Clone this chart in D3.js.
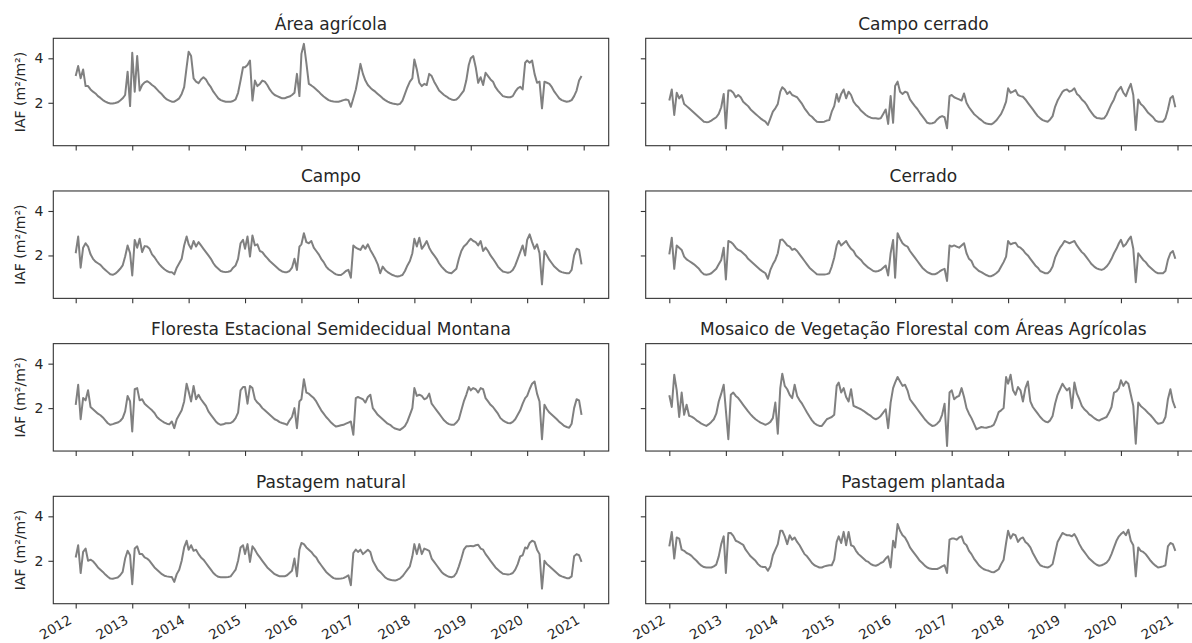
<!DOCTYPE html>
<html>
<head>
<meta charset="utf-8">
<script src="https://cdn.jsdelivr.net/npm/d3@7"></script>
<style>
  body { margin: 0; background: #fff; }
  svg { display: block; }
  text { font-family: "DejaVu Sans", sans-serif; fill: #262626; }
</style>
</head>
<body>
<svg id="chart" width="1192" height="643"></svg>
<script>
// Leaf area index (IAF) series, 16-day composites, 23 samples per year (2012-2020)
const years = [2012, 2013, 2014, 2015, 2016, 2017, 2018, 2019, 2020];
const samplesPerYear = 23;
const stepDays = 16;
const xTickYears = [2012, 2013, 2014, 2015, 2016, 2017, 2018, 2019, 2020, 2021];
const yTickValues = [2, 4];
const yLabel = "IAF (m²/m²)";

const panelTitles = [
  "Área agrícola",
  "Campo cerrado",
  "Campo",
  "Cerrado",
  "Floresta Estacional Semidecidual Montana",
  "Mosaico de Vegetação Florestal com Áreas Agrícolas",
  "Pastagem natural",
  "Pastagem plantada"
];

const areaAgricola = [
  3.2, 3.65, 3.1, 3.5, 2.75, 2.75, 2.6, 2.5, 2.42, 2.3, 2.22, 2.12, 2.05, 2.0, 1.97, 1.97, 1.99, 2.02, 2.1, 2.2, 2.35, 3.4, 1.85,
  4.25, 2.5, 4.1, 2.55, 2.8, 2.92, 2.97, 2.9, 2.8, 2.72, 2.6, 2.48, 2.38, 2.25, 2.15, 2.1, 2.05, 2.05, 2.12, 2.2, 2.4, 2.7, 3.6,
  4.3, 4.1, 3.1, 2.95, 2.88, 3.05, 3.15, 3.05, 2.85, 2.7, 2.5, 2.35, 2.2, 2.12, 2.08, 2.05, 2.05, 2.05, 2.08, 2.15, 2.45, 3.0, 3.6,
  3.6, 3.7, 3.9, 2.1, 3.0, 2.75, 2.85, 3.0, 2.95, 2.8, 2.6, 2.45, 2.35, 2.3, 2.25, 2.2, 2.2, 2.25, 2.28, 2.35, 2.45, 3.3, 2.3,
  4.2, 4.65, 3.8, 2.85, 2.78, 2.7, 2.6, 2.5, 2.38, 2.28, 2.2, 2.12, 2.08, 2.06, 2.05, 2.05, 2.08, 2.12, 2.15, 2.12, 1.82, 2.2, 2.6,
  3.1, 3.75, 3.3, 3.0, 2.8, 2.68, 2.58, 2.5, 2.4, 2.3, 2.2, 2.12, 2.05, 2.0, 1.97, 1.95, 1.92, 1.95, 2.1, 2.4, 2.7, 2.95, 3.1,
  3.95, 3.5, 2.9, 2.75, 2.85, 2.8, 3.3, 3.2, 2.95, 2.75, 2.55, 2.45, 2.35, 2.28, 2.2, 2.15, 2.12, 2.15, 2.25, 2.4, 2.55, 3.0, 3.7,
  4.0, 4.1, 3.6, 2.9, 3.15, 2.8, 3.35, 3.2, 3.05, 2.95, 2.7, 2.55, 2.42, 2.3, 2.27, 2.25, 2.25, 2.3, 2.5, 2.65, 2.72, 2.6, 3.8,
  3.9, 3.8, 3.9, 3.3, 2.9, 2.95, 1.75, 2.95, 2.9, 2.85, 2.7, 2.5, 2.35, 2.2, 2.12, 2.08, 2.05, 2.07, 2.12, 2.3, 2.55, 3.0, 3.2
];

const campoCerrado = [
  2.1, 2.6, 1.45, 2.45, 2.2, 2.35, 1.95, 1.85, 1.75, 1.65, 1.55, 1.45, 1.35, 1.25, 1.15, 1.13, 1.14, 1.2, 1.28, 1.35, 1.5, 1.8, 2.4,
  0.85, 2.55, 2.55, 2.45, 2.25, 2.35, 2.25, 2.05, 1.95, 1.85, 1.7, 1.6, 1.5, 1.4, 1.3, 1.22, 1.15, 1.0, 1.3, 1.6, 1.75, 1.95, 2.5,
  2.7, 2.6, 2.4, 2.5, 2.35, 2.3, 2.25, 2.1, 1.95, 1.75, 1.6, 1.45, 1.37, 1.25, 1.15, 1.14, 1.14, 1.15, 1.2, 1.22, 1.6, 1.85, 2.4,
  2.05, 2.4, 2.6, 2.2, 2.5, 2.35, 2.05, 1.9, 1.8, 1.65, 1.55, 1.45, 1.38, 1.33, 1.3, 1.3, 1.28, 1.3, 1.5, 1.7, 1.05, 2.3, 1.1,
  2.75, 2.95, 2.5, 2.4, 2.5, 2.45, 2.15, 2.0, 1.85, 1.72, 1.55, 1.4, 1.25, 1.1, 1.07, 1.08, 1.12, 1.25, 1.35, 1.4, 1.35, 0.85, 2.3,
  2.35, 2.25, 2.2, 2.15, 2.1, 2.42, 2.0, 1.8, 1.65, 1.5, 1.4, 1.3, 1.22, 1.12, 1.07, 1.05, 1.03, 1.1, 1.2, 1.35, 1.5, 1.75, 2.05,
  2.65, 2.45, 2.5, 2.57, 2.35, 2.3, 2.27, 2.15, 2.0, 1.85, 1.7, 1.55, 1.4, 1.3, 1.22, 1.18, 1.15, 1.25, 1.4, 1.82, 2.1, 2.3, 2.5,
  2.57, 2.6, 2.5, 2.55, 2.65, 2.4, 2.3, 2.15, 2.05, 1.9, 1.7, 1.55, 1.4, 1.32, 1.3, 1.28, 1.3, 1.45, 1.7, 1.95, 2.15, 2.45, 2.6,
  2.72, 2.45, 2.3, 2.6, 2.85, 2.35, 0.78, 2.15, 1.95, 1.85, 1.7, 1.55, 1.45, 1.35, 1.2, 1.15, 1.15, 1.15, 1.3, 1.7, 2.2, 2.3, 1.8
];

const campo = [
  2.1, 2.85, 1.45, 2.35, 2.55, 2.4, 2.05, 1.85, 1.72, 1.65, 1.58, 1.45, 1.35, 1.25, 1.15, 1.13, 1.18, 1.28, 1.4, 1.55, 1.95, 2.45, 2.1,
  1.1, 2.7, 2.35, 2.75, 2.15, 2.42, 2.4, 2.3, 2.05, 1.92, 1.75, 1.6, 1.48, 1.38, 1.3, 1.25, 1.25, 1.15, 1.45, 1.65, 1.85, 2.45, 2.85,
  2.5, 2.3, 2.65, 2.4, 2.6, 2.45, 2.3, 2.15, 2.0, 1.85, 1.65, 1.5, 1.4, 1.3, 1.27, 1.25, 1.27, 1.3, 1.45, 1.55, 1.85, 2.55, 2.7,
  2.3, 2.85, 1.95, 2.9, 2.45, 2.5, 2.2, 2.15, 2.0, 1.88, 1.75, 1.65, 1.55, 1.45, 1.35, 1.28, 1.25, 1.25, 1.3, 1.45, 1.85, 1.35, 2.4,
  2.5, 3.0, 2.6, 2.55, 2.65, 2.35, 2.2, 2.05, 1.85, 1.7, 1.5, 1.38, 1.3, 1.22, 1.15, 1.12, 1.12, 1.2, 1.3, 1.35, 1.0, 2.45, 2.35,
  2.3, 2.25, 2.45, 2.3, 2.5, 2.25, 2.05, 1.85, 1.6, 1.2, 1.5, 1.35, 1.25, 1.18, 1.12, 1.08, 1.05, 1.08, 1.12, 1.3, 1.55, 1.75, 2.1,
  2.75, 2.4, 2.8, 2.3, 2.45, 2.65, 2.35, 2.15, 2.0, 1.85, 1.65, 1.5, 1.38, 1.27, 1.22, 1.2, 1.3, 1.4, 1.85, 2.2, 2.4, 2.5, 2.65,
  2.75, 2.65, 2.6, 2.45, 2.65, 2.2, 2.35, 2.2, 2.0, 1.85, 1.68, 1.5, 1.38, 1.28, 1.25, 1.22, 1.25, 1.35, 1.55, 1.85, 2.15, 2.45, 2.0,
  2.7, 2.95, 2.6, 2.3, 2.5, 2.1, 0.7, 2.2, 2.0, 1.8, 1.65, 1.5, 1.4, 1.3, 1.25, 1.22, 1.2, 1.2, 1.35, 2.0, 2.3, 2.25, 1.6
];

const cerrado = [
  2.05, 2.8, 1.4, 2.45, 2.35, 2.25, 1.95, 1.82, 1.75, 1.68, 1.6, 1.5, 1.4, 1.25, 1.15, 1.13, 1.15, 1.2, 1.3, 1.4, 1.6, 1.8, 2.35,
  0.92, 2.65, 2.6, 2.5, 2.35, 2.25, 2.2, 2.1, 2.0, 1.85, 1.75, 1.65, 1.55, 1.45, 1.35, 1.27, 1.2, 0.95, 1.35, 1.6, 1.8, 2.1, 2.7,
  2.72, 2.6, 2.45, 2.4, 2.25, 2.3, 2.2, 2.05, 1.9, 1.75, 1.6, 1.45, 1.35, 1.25, 1.15, 1.14, 1.14, 1.14, 1.16, 1.2, 1.5, 1.9, 2.45,
  2.65, 2.45, 2.55, 2.65, 2.45, 2.3, 2.2, 2.0, 1.9, 1.8, 1.65, 1.55, 1.45, 1.38, 1.3, 1.28, 1.3, 1.35, 1.45, 1.55, 1.1, 2.1, 2.7,
  1.0, 3.0, 2.75, 2.55, 2.45, 2.4, 2.2, 2.05, 1.9, 1.75, 1.6, 1.45, 1.35, 1.25, 1.2, 1.15, 1.15, 1.2, 1.28, 1.35, 1.4, 0.85, 2.45,
  2.4, 2.45, 2.4, 2.35, 2.45, 2.55, 2.1, 1.85, 1.75, 1.5, 1.4, 1.3, 1.25, 1.18, 1.12, 1.07, 1.07, 1.12, 1.2, 1.3, 1.5, 1.7, 1.95,
  2.65, 2.5, 2.55, 2.57, 2.4, 2.35, 2.25, 2.1, 2.0, 1.85, 1.7, 1.55, 1.45, 1.3, 1.25, 1.2, 1.2, 1.3, 1.5, 1.9, 2.15, 2.35, 2.5,
  2.65, 2.6, 2.55, 2.6, 2.65, 2.45, 2.3, 2.15, 2.05, 1.9, 1.75, 1.6, 1.5, 1.42, 1.38, 1.35, 1.4, 1.5, 1.65, 1.85, 2.1, 2.3, 2.55,
  2.7, 2.4, 2.5, 2.7, 2.85, 2.3, 0.8, 2.1, 1.95, 1.8, 1.7, 1.55, 1.45, 1.35, 1.25, 1.2, 1.2, 1.2, 1.3, 1.8, 2.1, 2.2, 1.85
];

const floresta = [
  2.15, 3.05, 1.5, 2.45, 2.35, 2.8, 2.05, 1.95, 1.85, 1.75, 1.68, 1.58, 1.45, 1.32, 1.25, 1.28, 1.32, 1.35, 1.42, 1.55, 1.85, 2.55, 2.3,
  0.95, 2.85, 2.9, 2.35, 2.4, 2.2, 2.1, 2.0, 1.9, 1.78, 1.6, 1.5, 1.42, 1.35, 1.3, 1.27, 1.4, 1.1, 1.5, 1.7, 1.9, 2.3, 3.1,
  2.75, 2.3, 3.0, 2.4, 2.6, 2.4, 2.25, 2.1, 1.85, 1.7, 1.55, 1.4, 1.3, 1.25, 1.27, 1.32, 1.32, 1.33, 1.4, 1.55, 1.8, 2.8, 2.95,
  2.95, 2.2, 3.0, 2.9, 2.4, 2.25, 2.15, 2.0, 1.9, 1.8, 1.7, 1.6, 1.5, 1.45, 1.37, 1.33, 1.3, 1.25, 1.45, 1.6, 2.0, 1.1, 2.3,
  2.4, 3.3, 2.7, 2.65, 2.55, 2.45, 2.3, 2.1, 1.9, 1.75, 1.6, 1.48, 1.35, 1.25, 1.17, 1.2, 1.23, 1.25, 1.3, 1.35, 1.4, 0.8, 2.45,
  2.5, 2.45, 2.4, 2.25, 2.5, 2.6, 2.0, 1.85, 1.7, 1.6, 1.5, 1.4, 1.3, 1.25, 1.15, 1.08, 1.05, 1.02, 1.1, 1.2, 1.4, 1.7, 2.0,
  2.9, 2.55, 2.6, 2.55, 2.4, 2.45, 2.65, 2.2, 2.05, 1.9, 1.75, 1.6, 1.45, 1.35, 1.28, 1.25, 1.25, 1.35, 1.5, 1.9, 2.3, 2.6, 2.95,
  2.8, 2.9, 2.85, 2.7, 2.9, 2.85, 2.45, 2.3, 2.15, 2.05, 1.9, 1.75, 1.55, 1.45, 1.38, 1.33, 1.32, 1.38, 1.5, 1.7, 1.9, 2.2, 2.45,
  2.55, 2.85, 3.1, 3.2, 2.65, 2.3, 0.6, 2.15, 1.95, 1.8, 1.7, 1.6, 1.5, 1.38, 1.3, 1.2, 1.15, 1.12, 1.3, 2.0, 2.4, 2.35, 1.7
];

const mosaico = [
  2.58, 2.05, 3.5, 2.8, 1.6, 2.7, 1.7, 2.15, 1.66, 1.62, 1.55, 1.45, 1.38, 1.3, 1.25, 1.2, 1.28, 1.38, 1.5, 1.75, 2.3, 2.65, 3.05,
  1.9, 0.6, 2.6, 2.7, 2.55, 2.45, 2.3, 2.15, 2.0, 1.85, 1.72, 1.6, 1.5, 1.42, 1.35, 1.3, 1.25, 1.3, 1.38, 1.55, 2.25, 0.85, 2.9,
  3.55, 3.0, 2.85, 2.6, 2.45, 3.05, 2.55, 2.35, 2.2, 2.0, 1.8, 1.62, 1.45, 1.32, 1.25, 1.2, 1.2, 1.35, 1.5, 1.55, 1.6, 1.7, 3.0,
  3.15, 2.7, 2.9, 2.5, 2.3, 2.85, 2.1, 2.05, 2.0, 1.95, 1.88, 1.8, 1.72, 1.65, 1.55, 1.5, 1.55, 1.65, 1.8, 1.95, 1.1, 2.25, 2.9,
  3.15, 3.4, 3.2, 3.0, 3.05, 2.8, 2.4, 2.25, 2.1, 1.95, 1.8, 1.65, 1.5, 1.38, 1.28, 1.2, 1.22, 1.3, 1.42, 1.7, 2.2, 0.3, 2.7,
  2.8, 2.4, 2.5, 2.55, 2.9, 2.5, 2.0, 1.75, 1.55, 1.3, 1.05, 1.1, 1.15, 1.13, 1.12, 1.15, 1.18, 1.25, 1.5, 1.82, 1.9, 2.0, 3.4,
  3.1, 3.5, 2.8, 2.6, 2.95, 2.8, 2.3, 2.9, 3.2, 2.3, 2.05, 1.9, 1.75, 1.6, 1.48, 1.4, 1.36, 1.45, 1.65, 2.2, 2.6, 2.85, 3.1,
  2.95, 2.8, 2.9, 2.0, 3.15, 2.65, 2.4, 2.1, 1.95, 1.85, 1.72, 1.65, 1.55, 1.48, 1.44, 1.5, 1.55, 1.6, 1.8, 2.05, 2.7, 2.75, 2.9,
  3.25, 3.0, 3.2, 3.1, 2.6, 2.1, 0.4, 2.25, 2.1, 2.0, 1.9, 1.78, 1.68, 1.55, 1.4, 1.3, 1.32, 1.36, 1.6, 2.4, 2.85, 2.3, 2.0
];

const pastagemNatural = [
  2.15, 2.7, 1.45, 2.4, 2.55, 2.0, 2.05, 1.98, 1.85, 1.7, 1.6, 1.5, 1.38, 1.28, 1.2, 1.19, 1.22, 1.25, 1.35, 1.5, 2.1, 2.45, 2.25,
  0.95, 2.55, 2.65, 2.3, 2.3, 2.15, 2.1, 2.0, 1.85, 1.7, 1.6, 1.5, 1.4, 1.33, 1.3, 1.28, 1.27, 1.05, 1.4, 1.6, 2.0, 2.6, 2.9,
  2.5, 2.7, 2.45, 2.5, 2.3, 2.15, 2.05, 1.9, 1.75, 1.6, 1.45, 1.35, 1.28, 1.26, 1.26, 1.26, 1.27, 1.3, 1.45, 1.6, 2.0, 2.6, 2.7,
  2.3, 2.75, 1.95, 2.65, 2.5, 2.3, 2.15, 2.0, 1.85, 1.7, 1.6, 1.5, 1.4, 1.35, 1.3, 1.3, 1.3, 1.35, 1.45, 1.55, 2.1, 1.3, 2.5,
  2.8, 2.75, 2.6, 2.5, 2.4, 2.25, 2.15, 1.95, 1.8, 1.65, 1.5, 1.4, 1.3, 1.22, 1.19, 1.19, 1.2, 1.22, 1.28, 1.35, 0.9, 2.35, 2.5,
  2.4, 2.5, 2.3, 2.4, 2.5, 2.4, 2.0, 1.8, 1.6, 1.5, 1.38, 1.25, 1.18, 1.15, 1.12, 1.11, 1.15, 1.2, 1.3, 1.45, 1.6, 1.75, 2.2,
  2.75, 2.3, 2.75, 2.3, 2.55, 2.5, 2.45, 2.1, 1.95, 1.8, 1.65, 1.5, 1.4, 1.33, 1.28, 1.26, 1.3, 1.45, 1.75, 2.1, 2.5, 2.65, 2.65,
  2.67, 2.65, 2.7, 2.72, 2.55, 2.5, 2.3, 2.15, 2.0, 1.85, 1.7, 1.6, 1.5, 1.42, 1.4, 1.38, 1.4, 1.45, 1.6, 1.85, 2.2, 2.25, 2.6,
  2.55, 2.8, 2.9, 2.85, 2.5, 2.3, 0.75, 2.0, 1.85, 1.75, 1.65, 1.55, 1.45, 1.35, 1.3, 1.26, 1.22, 1.22, 1.3, 2.2, 2.3, 2.25, 1.95
];

const pastagemPlantada = [
  2.65, 3.3, 2.1, 3.05, 3.0, 2.5, 2.45, 2.35, 2.3, 2.22, 2.1, 2.0, 1.88, 1.78, 1.72, 1.7, 1.7, 1.7, 1.75, 1.83, 2.2, 2.75, 3.1,
  1.45, 3.25, 3.25, 3.12, 2.9, 2.85, 2.78, 2.72, 2.5, 2.35, 2.2, 2.1, 2.0, 1.85, 1.75, 1.72, 1.72, 1.55, 1.75, 2.25, 2.5, 2.75, 3.35,
  3.35, 3.1, 2.75, 3.15, 2.95, 3.05, 2.85, 2.7, 2.5, 2.3, 2.2, 2.05, 1.9, 1.8, 1.75, 1.7, 1.7, 1.75, 1.78, 1.8, 1.8, 2.05, 2.85,
  3.1, 2.8, 3.3, 2.7, 3.3, 2.7, 2.65, 2.45, 2.3, 2.2, 2.1, 2.0, 1.95, 1.85, 1.8, 1.78, 1.82, 1.9, 1.95, 2.1, 2.2, 1.7, 2.9,
  2.6, 3.65, 3.35, 3.15, 3.05, 2.85, 2.6, 2.45, 2.3, 2.15, 2.0, 1.9, 1.78, 1.7, 1.65, 1.63, 1.63, 1.63, 1.68, 1.75, 1.8, 1.45, 2.95,
  3.0, 3.0, 2.95, 3.05, 3.1, 2.8, 2.7, 2.45, 2.3, 2.1, 1.95, 1.8, 1.7, 1.62, 1.58, 1.55, 1.5, 1.48, 1.55, 1.62, 1.85, 2.05, 2.8,
  3.35, 3.0, 3.2, 3.15, 2.85, 3.0, 3.05, 2.85, 2.75, 2.6, 2.35, 2.15, 1.95, 1.8, 1.75, 1.72, 1.7, 1.75, 1.85, 2.35, 2.85, 3.05, 3.25,
  3.2, 3.15, 3.15, 3.1, 3.2, 3.0, 2.75, 2.55, 2.4, 2.25, 2.1, 2.0, 1.9, 1.82, 1.78, 1.8, 1.85, 1.92, 2.05, 2.3, 2.6, 2.9, 3.1,
  3.2, 3.3, 3.15, 3.4, 2.9, 2.7, 1.3, 2.6, 2.45, 2.4, 2.3, 2.15, 2.0, 1.88, 1.78, 1.7, 1.72, 1.75, 1.8, 2.65, 2.8, 2.75, 2.45
];

// Panel order: row by row, left column first
const panelSeries = [areaAgricola, campoCerrado, campo, cerrado, floresta, mosaico, pastagemNatural, pastagemPlantada];

// Sample dates: every 16 days from 1 January of each year
const sampleDates = years.flatMap(y =>
  d3.range(samplesPerYear).map(k => new Date(Date.UTC(y, 0, 1 + stepDays * k))));

// Layout of the 4 x 2 grid
const columns = [
  { boxLeft: 53.3, boxRight: 608.7, firstTick: 75.7, lastTick: 583.7 },
  { boxLeft: 645.7, boxRight: 1201.1, firstTick: 669.3, lastTick: 1177.5 }
];
const rowTop0 = 38.3, rowStep = 152.67, boxHeight = 107.4;
const yDomain = [0.07, 4.9];
const tickLen = 4.9, tickPad = 4.9;
const lineColor = "#808080";
const frameColor = "#333";

const svg = d3.select("#chart");
const tickDates = xTickYears.map(y => new Date(Date.UTC(y, 0, 1)));

panelSeries.forEach((values, i) => {
  const row = Math.floor(i / 2), col = i % 2;
  const c = columns[col];
  const top = rowTop0 + row * rowStep;
  const bottom = top + boxHeight;
  const isBottom = row === 3, isLeft = col === 0;

  const x = d3.scaleUtc()
    .domain([tickDates[0], tickDates[tickDates.length - 1]])
    .range([c.firstTick, c.lastTick]);
  const y = d3.scaleLinear().domain(yDomain).range([bottom, top]);

  const g = svg.append("g");

  // Series line
  const data = sampleDates.map((d, j) => ({ date: d, v: values[j] }));
  g.append("path")
    .datum(data)
    .attr("fill", "none")
    .attr("stroke", lineColor)
    .attr("stroke-width", 2)
    .attr("stroke-linejoin", "round")
    .attr("d", d3.line().x(d => x(d.date)).y(d => y(d.v)));

  // Frame
  g.append("rect")
    .attr("x", c.boxLeft).attr("y", top)
    .attr("width", c.boxRight - c.boxLeft).attr("height", boxHeight)
    .attr("fill", "none").attr("stroke", frameColor).attr("stroke-width", 1.1);

  // X axis (year labels only under the bottom row)
  const xAxis = g.append("g")
    .attr("transform", `translate(0,${bottom})`)
    .call(d3.axisBottom(x).tickValues(tickDates).tickSize(tickLen)
      .tickFormat(isBottom ? d3.utcFormat("%Y") : () => ""));
  xAxis.select(".domain").remove();
  xAxis.selectAll(".tick line").attr("stroke", frameColor).attr("stroke-width", 1.1);
  xAxis.selectAll(".tick text")
    .attr("x", null).attr("y", null).attr("dy", null)
    .attr("text-anchor", "end")
    .attr("transform", "translate(-3.5,19) rotate(-30)")
    .style("font-family", "'DejaVu Sans', sans-serif")
    .style("font-size", "13.5px")
    .attr("fill", "#262626");

  // Y axis (values only on the left column)
  const yAxis = g.append("g")
    .attr("transform", `translate(${c.boxLeft},0)`)
    .call(d3.axisLeft(y).tickValues(yTickValues).tickSize(tickLen).tickPadding(tickPad)
      .tickFormat(isLeft ? d3.format("d") : () => ""));
  yAxis.select(".domain").remove();
  yAxis.selectAll(".tick line").attr("stroke", frameColor).attr("stroke-width", 1.1);
  yAxis.selectAll(".tick text")
    .style("font-family", "'DejaVu Sans', sans-serif")
    .style("font-size", "14px")
    .attr("fill", "#262626");

  if (isLeft) {
    g.append("text")
      .attr("transform", `translate(24.5,${(top + bottom) / 2}) rotate(-90)`)
      .attr("text-anchor", "middle")
      .style("font-size", "14px")
      .text(yLabel);
  }

  // Panel title
  g.append("text")
    .attr("x", (c.boxLeft + c.boxRight) / 2)
    .attr("y", top - 8.5)
    .attr("text-anchor", "middle")
    .style("font-size", "17px")
    .text(panelTitles[i]);
});
</script>
</body>
</html>
